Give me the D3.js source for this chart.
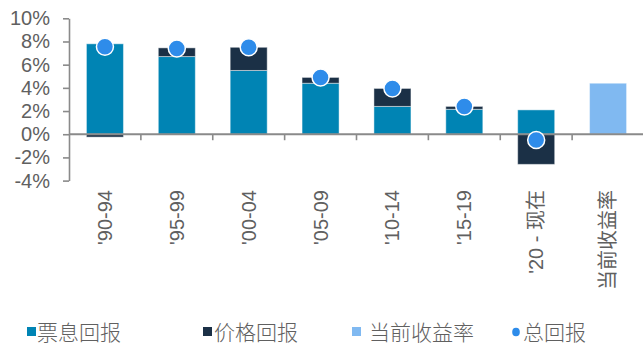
<!DOCTYPE html>
<html>
<head>
<meta charset="utf-8">
<script src="https://cdn.jsdelivr.net/npm/d3@7"></script>
<style>
  html, body { margin: 0; padding: 0; background: #fff; }
  svg { display: block; }
  text { font-family: "Liberation Sans", Arial, "Noto Sans CJK SC", sans-serif; }
</style>
</head>
<body>
<svg id="chart" width="643" height="345"></svg>
<script>
// Period labels along the x axis
const categories = ["'90-94", "'95-99", "'00-04", "'05-09", "'10-14", "'15-19", "'20 - 现在", "当前收益率"];
// Return components, in percent (null where a category has no such bar)
const couponReturn = [7.8, 6.7, 5.5, 4.4, 2.4, 2.15, 2.1, null];
const priceReturn  = [-0.25, 0.75, 2.0, 0.5, 1.55, 0.25, -2.6, null];
const currentYield = [null, null, null, null, null, null, null, 4.4];
const totalReturn  = [7.55, 7.4, 7.5, 4.9, 3.95, 2.4, -0.5, null];
const yTicks = [-4, -2, 0, 2, 4, 6, 8, 10];

const seriesNames = ["票息回报", "价格回报", "当前收益率", "总回报"];
const colors = {
  coupon: "#0084B4",
  price: "#1B3046",
  yield: "#80B9F1",
  total: "#2E8CEA"
};

const svg = d3.select("#chart");
const axisColor = "#8a8a8a";
const textColor = "#606060";

const x = d3.scaleBand()
  .domain(categories)
  .range([69, 644])
  .paddingInner(0.485)
  .paddingOuter(0.2425);

const y = d3.scaleLinear()
  .domain([-4, 10])
  .range([180.6, 18.3]);

// Stacked coupon + price components, negatives stacked below zero
const rows = categories.map((c, i) => ({
  cat: c,
  coupon: couponReturn[i] ?? 0,
  price: priceReturn[i] ?? 0,
  yield: currentYield[i] ?? 0
}));
const stack = d3.stack()
  .keys(["coupon", "price", "yield"])
  .offset(d3.stackOffsetDiverging);
const layers = stack(rows);

const barGroup = svg.append("g");
layers.forEach(layer => {
  barGroup.selectAll(null)
    .data(layer.filter(d => d[1] !== d[0]))
    .join("rect")
    .attr("x", d => x(d.data.cat))
    .attr("width", x.bandwidth())
    .attr("y", d => y(Math.max(d[0], d[1])))
    .attr("height", d => Math.abs(y(d[0]) - y(d[1])))
    .attr("fill", colors[layer.key])
    .attr("stroke", "rgba(255,255,255,0.45)")
    .attr("stroke-width", 1);
});

// Y axis
const yAxis = d3.axisLeft(y)
  .tickValues(yTicks)
  .tickFormat(d => d + "%")
  .tickSize(6)
  .tickSizeOuter(0)
  .tickPadding(13);
const gy = svg.append("g")
  .attr("transform", "translate(69,0)")
  .call(yAxis);
gy.select(".domain").attr("stroke", axisColor).attr("stroke-width", 1.6);
gy.selectAll(".tick line").attr("stroke", axisColor).attr("stroke-width", 1.6);
gy.selectAll(".tick text")
  .attr("fill", textColor)
  .style("font-size", "20px");

// X axis line at zero with tick marks between categories
const xAxisG = svg.append("g");
xAxisG.append("line")
  .attr("x1", 69).attr("x2", 643)
  .attr("y1", y(0)).attr("y2", y(0))
  .attr("stroke", axisColor)
  .attr("stroke-width", 2);
const half = x.step() * x.paddingInner() / 2;
xAxisG.selectAll(".xtick")
  .data(categories.slice(1))
  .join("line")
  .attr("class", "xtick")
  .attr("x1", d => x(d) - half)
  .attr("x2", d => x(d) - half)
  .attr("y1", y(0))
  .attr("y2", y(0) + 6)
  .attr("stroke", axisColor)
  .attr("stroke-width", 1.6);

// Rotated category labels
svg.append("g")
  .selectAll("text")
  .data(categories)
  .join("text")
  .attr("transform", d => `translate(${x(d) + x.bandwidth() / 2},190) rotate(-90)`)
  .attr("text-anchor", "end")
  .attr("dy", "0.35em")
  .attr("fill", textColor)
  .style("font-size", "20px")
  .text(d => d);

// Total return markers
svg.append("g")
  .selectAll("circle")
  .data(categories.map((c, i) => ({ cat: c, v: totalReturn[i] })).filter(d => d.v !== null))
  .join("circle")
  .attr("cx", d => x(d.cat) + x.bandwidth() / 2)
  .attr("cy", d => y(d.v))
  .attr("r", 8.5)
  .attr("fill", colors.total)
  .attr("stroke", "#fff")
  .attr("stroke-width", 1.5);

// Legend
const legendItems = [
  { name: seriesNames[0], color: colors.coupon, shape: "rect", x: 27, tx: 37 },
  { name: seriesNames[1], color: colors.price, shape: "rect", x: 203, tx: 214 },
  { name: seriesNames[2], color: colors.yield, shape: "rect", x: 352, tx: 369 },
  { name: seriesNames[3], color: colors.total, shape: "circle", x: 512, tx: 523 }
];
const legend = svg.append("g");
legendItems.forEach(item => {
  if (item.shape === "rect") {
    legend.append("rect")
      .attr("x", item.x).attr("y", 327)
      .attr("width", 9).attr("height", 9)
      .attr("fill", item.color);
  } else {
    legend.append("ellipse")
      .attr("cx", item.x + 4).attr("cy", 332)
      .attr("rx", 3.8).attr("ry", 4.3)
      .attr("fill", item.color);
  }
  legend.append("text")
    .attr("x", item.tx)
    .attr("y", 340)
    .attr("fill", textColor)
    .style("font-family", "'Noto Sans CJK SC', sans-serif")
    .style("font-weight", 300)
    .style("font-size", "21px")
    .text(item.name);
});
</script>
</body>
</html>
